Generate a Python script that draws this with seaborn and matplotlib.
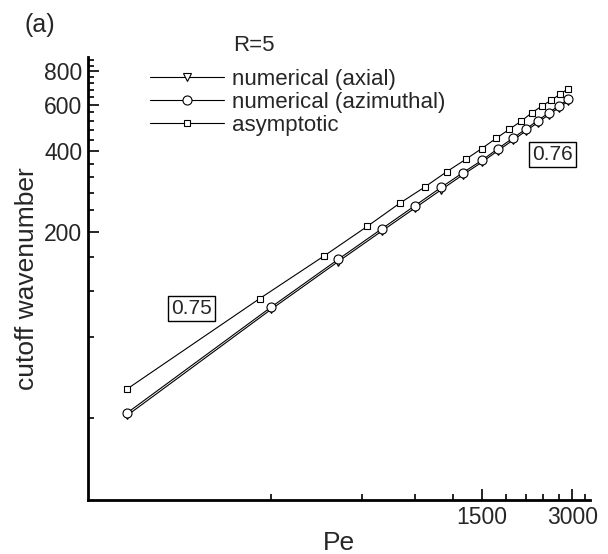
import numpy as np
import pandas as pd
import matplotlib
matplotlib.use("Agg")
import matplotlib.pyplot as plt
import seaborn as sns
from matplotlib.ticker import FixedLocator, FixedFormatter, NullFormatter

# ---- data ----
pe_num = [100, 300, 500, 700, 900, 1100, 1300, 1500, 1700, 1900, 2100, 2300, 2500, 2700, 2900]
k_axial = [40.8, 102, 154, 201, 245, 287, 327, 364, 403, 440, 477, 513, 549, 583, 617]
k_azimuthal = [41.7, 104, 157, 205, 250, 293, 333, 370, 410, 448, 485, 522, 558, 593, 627]
pe_asym = [100, 275, 450, 625, 800, 975, 1150, 1325, 1500, 1675, 1850, 2025, 2200, 2375, 2550, 2725, 2900]
k_asym = [51.3, 112, 162, 209, 255, 295, 336, 373, 410, 448, 484, 519, 559, 592, 623, 655, 688]

series_names = ["numerical (axial)", "numerical (azimuthal)", "asymptotic"]
legend_title = "R=5"
slope_labels = ["0.75", "0.76"]
x_major = [1500, 3000]
x_major_labels = ["1500", "3000"]
y_major = [200, 400, 600, 800]
y_major_labels = ["200", "400", "600", "800"]

df_axial = pd.DataFrame({"Pe": pe_num, "k": k_axial})
df_azi = pd.DataFrame({"Pe": pe_num, "k": k_azimuthal})
df_asym = pd.DataFrame({"Pe": pe_asym, "k": k_asym})

sns.set_style("ticks")
plt.rcParams["font.family"] = ["Liberation Sans", "DejaVu Sans"]

fig = plt.figure(figsize=(6.08, 5.54), dpi=100)
ax = fig.add_axes([88 / 608, 54 / 554, 502 / 608, 443 / 554])

common = dict(color="black", linewidth=0.8, markerfacecolor="white",
              markeredgecolor="black", markeredgewidth=0.8)
sns.lineplot(data=df_axial, x="Pe", y="k", ax=ax, marker="v", markersize=6,
             label=series_names[0], **common)
sns.lineplot(data=df_azi, x="Pe", y="k", ax=ax, marker="o", markersize=6.5,
             label=series_names[1], **common)
sns.lineplot(data=df_asym, x="Pe", y="k", ax=ax, marker="s", markersize=5,
             label=series_names[2], **common)

ax.set_xscale("log")
ax.set_yscale("log")
ax.set_xlim(74, 3430)
ax.set_ylim(19.6, 905)

ax.xaxis.set_major_locator(FixedLocator(x_major))
ax.xaxis.set_major_formatter(FixedFormatter(x_major_labels))
ax.xaxis.set_minor_locator(FixedLocator([v for v in range(300, 3400, 300) if v not in x_major]))
ax.xaxis.set_minor_formatter(NullFormatter())
ax.yaxis.set_major_locator(FixedLocator(y_major))
ax.yaxis.set_major_formatter(FixedFormatter(y_major_labels))
ax.yaxis.set_minor_locator(FixedLocator([v for v in range(40, 900, 40) if v not in y_major]))
ax.yaxis.set_minor_formatter(NullFormatter())

ax.tick_params(which="both", direction="in", width=1.2, labelsize=16.5, color="black")
ax.tick_params(which="major", length=8, pad=4)
ax.tick_params(which="minor", length=4)

sns.despine(ax=ax, top=True, right=True)
for s in ["left", "bottom"]:
    ax.spines[s].set_linewidth(2.0)
    ax.spines[s].set_color("black")

ax.set_xlabel("Pe", fontsize=19, labelpad=2)
ax.set_ylabel("cutoff wavenumber", fontsize=19, labelpad=4)

handles, labels = ax.get_legend_handles_labels()
leg = ax.legend(handles, labels, loc="upper left", bbox_to_anchor=(0.1235, 0.974),
                frameon=False, fontsize=16, handlelength=3.35, handletextpad=0.36,
                labelspacing=0.1, borderpad=0, borderaxespad=0)

ax.text(0.289, 1.027, legend_title, transform=ax.transAxes, fontsize=16,
        ha="left", va="center", clip_on=False)

box = dict(boxstyle="square,pad=0.15", facecolor="white", edgecolor="black", linewidth=1)
ax.text(163, 102.6, slope_labels[0], fontsize=15, ha="center", va="center", bbox=box)
ax.text(2580, 390, slope_labels[1], fontsize=15, ha="center", va="center", bbox=box)

fig.text(25 / 608, 1 - 25 / 554, "(a)", fontsize=18, ha="left", va="center")

fig.savefig("out.png", dpi=100)
